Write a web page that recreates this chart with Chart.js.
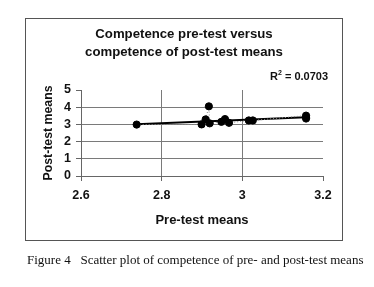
<!DOCTYPE html>
<html>
<head>
<meta charset="utf-8">
<script src="https://cdn.jsdelivr.net/npm/chart.js@4"></script>
<style>
  html, body { margin: 0; padding: 0; background: #fff; }
  #wrap { position: relative; width: 374px; height: 287px; }
  #frame { position: absolute; left: 25px; top: 18px; width: 316px; height: 221px; border: 1px solid #555; }
  .lbl { position: absolute; font-family: "Liberation Sans", Arial, sans-serif; font-weight: bold; color: #111; white-space: nowrap; }
  #title { left: 25px; width: 318px; top: 25px; text-align: center; font-size: 13.2px; line-height: 18px; }
  #r2 { left: 270px; top: 69px; font-size: 11px; }
  #caption { position: absolute; left: 27px; top: 252px; font-family: "Liberation Serif", "Times New Roman", serif; font-size: 13px; color: #111; white-space: pre; }
  canvas { position: absolute; left: 0; top: 0; }
</style>
</head>
<body>
<div id="wrap">
  <div id="frame"></div>
  <canvas id="chart" width="374" height="287"></canvas>
  <div class="lbl" id="title">Competence pre-test versus<br>competence of post-test means</div>
  <div class="lbl" id="r2">R<sup style="font-size:7px">2</sup> = 0.0703</div>
  <div id="caption">Figure 4   Scatter plot of competence of pre- and post-test means</div>
</div>
<script>
// pre-test means (x) and post-test means (y)
const preMeans  = [2.738, 2.899, 2.909, 2.917, 2.919, 2.948, 2.957, 2.967, 3.016, 3.026, 3.158, 3.158, 3.158];
const postMeans = [2.99, 3.00, 3.29, 4.05, 3.06, 3.15, 3.31, 3.09, 3.23, 3.23, 3.51, 3.34, 3.42];

// linear trend line end points
const trendX = [2.738, 3.158];
const trendY = [3.01, 3.42];

const xTicks = [2.6, 2.8, 3.0, 3.2];
const yTicks = [0, 1, 2, 3, 4, 5];

const points = preMeans.map((x, i) => ({ x, y: postMeans[i] }));
const trend = trendX.map((x, i) => ({ x, y: trendY[i] }));

const tickFont = { family: '"Liberation Sans", Arial, sans-serif', size: 12.5, weight: 'bold' };
const xTitleFont = { family: '"Liberation Sans", Arial, sans-serif', size: 13, weight: 'bold' };
const yTitleFont = { family: '"Liberation Sans", Arial, sans-serif', size: 12.3, weight: 'bold' };

new Chart(document.getElementById('chart'), {
    type: 'scatter',
    data: {
        datasets: [
            {
                label: 'means',
                data: points,
                showLine: true,
                borderColor: '#8a8a8a',
                borderWidth: 1,
                borderDash: [1, 2],
                backgroundColor: '#000',
                pointBackgroundColor: '#000',
                pointBorderColor: '#000',
                pointRadius: 3.6,
                order: 1
            },
            {
                label: 'trend',
                data: trend,
                showLine: true,
                borderColor: '#000',
                borderWidth: 2,
                pointRadius: 0,
                order: 2
            }
        ]
    },
    options: {
        responsive: false,
        animation: false,
        layout: { padding: { left: 26, right: 51, top: 90, bottom: 53 } },
        plugins: { legend: { display: false }, tooltip: { enabled: false } },
        scales: {
            x: {
                type: 'linear',
                min: 2.6,
                max: 3.2,
                afterBuildTicks: axis => { axis.ticks = xTicks.map(v => ({ value: v })); },
                afterFit: axis => { axis.height = 58; },
                grid: {
                    color: ctx => (ctx.tick && (ctx.tick.value === 2.6 || ctx.tick.value === 3.2)) ? 'rgba(0,0,0,0)' : '#7a7a7a',
                    tickColor: '#666',
                    tickLength: 5,
                    lineWidth: 1
                },
                border: { color: '#666', width: 1 },
                ticks: {
                    font: tickFont,
                    color: '#111',
                    padding: 7,
                    maxRotation: 0,
                    autoSkip: false,
                    callback: v => String(Math.round(v * 10) / 10)
                },
                title: { display: true, text: 'Pre-test means', font: xTitleFont, color: '#111', padding: { top: 0, bottom: 6 } }
            },
            y: {
                type: 'linear',
                min: 0,
                max: 5,
                afterBuildTicks: axis => { axis.ticks = yTicks.map(v => ({ value: v })); },
                afterFit: axis => { axis.width = 55; },
                grid: {
                    color: ctx => (ctx.tick && (ctx.tick.value === 0 || ctx.tick.value === 5)) ? 'rgba(0,0,0,0)' : '#7a7a7a',
                    tickColor: '#666',
                    tickLength: 5,
                    lineWidth: 1
                },
                border: { color: '#666', width: 1 },
                ticks: { font: tickFont, color: '#111', padding: 5, autoSkip: false },
                title: { display: true, text: 'Post-test means', font: yTitleFont, color: '#111', padding: { top: 15, bottom: 0 } }
            }
        }
    }
});
</script>
</body>
</html>
